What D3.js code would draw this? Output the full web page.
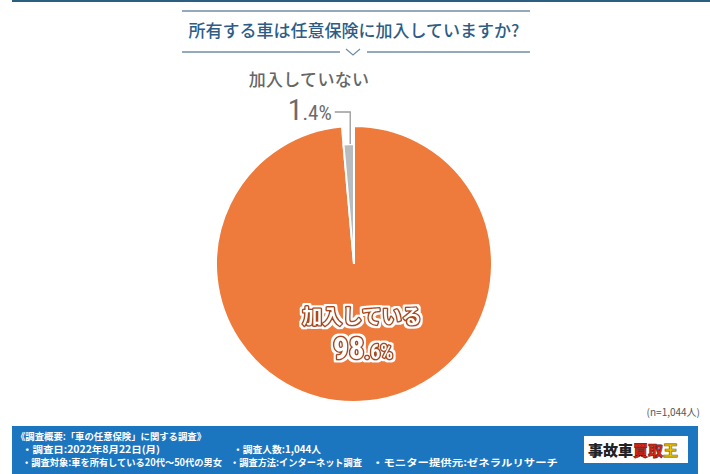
<!DOCTYPE html>
<html><head><meta charset="utf-8">
<script src="https://cdn.jsdelivr.net/npm/d3@7"></script>
<style>
html,body{margin:0;padding:0;background:#fff;}
svg{display:block;font-family:"Noto Sans CJK JP","Noto Sans",sans-serif;}
</style></head>
<body>
<svg id="chart" width="710" height="474"></svg>
<script>
const title = "所有する車は任意保険に加入していますか?";
const categories = ["加入している", "加入していない"];
const values = [98.6, 1.4];
const colors = ["#ee7a3b", "#b8bcbf"];
const sampleNote = "(n=1,044人)";
const footLines = [
  ["《調査概要:「車の任意保険」に関する調査》"],
  ["・調査日:2022年8月22日(月)", "・調査人数:1,044人"],
  ["・調査対象:車を所有している20代〜50代の男女", "・調査方法:インターネット調査", "・モニター提供元:ゼネラルリサーチ"]
];

const svg = d3.select("#chart");
const defs = svg.append("defs");
const f = defs.append("filter").attr("id","halo").attr("x","-10%").attr("y","-20%").attr("width","120%").attr("height","140%");
f.append("feMorphology").attr("in","SourceAlpha").attr("operator","dilate").attr("radius",1.6).attr("result","d");
f.append("feFlood").attr("flood-color","#ffffff").attr("result","w");
f.append("feComposite").attr("in","w").attr("in2","d").attr("operator","in").attr("result","halo");
const fm = f.append("feMerge");
fm.append("feMergeNode").attr("in","halo");
fm.append("feMergeNode").attr("in","SourceGraphic");

// top rule
svg.append("rect").attr("x",12).attr("y",0).attr("width",698).attr("height",2).attr("fill","#2a5f82");

// title block
const tg = svg.append("g");
tg.append("line").attr("x1",182).attr("x2",530).attr("y1",11).attr("y2",11).attr("stroke","#6f8ea6").attr("stroke-width",1.5);
tg.append("text").attr("x",354).attr("y",37).attr("text-anchor","middle")
  .attr("font-size",17).attr("font-weight",500).attr("fill","#2d5d86").text(title);
tg.append("path").attr("d","M182,52H340M367,52H530").attr("stroke","#6f8ea6").attr("stroke-width",1.5).attr("fill","none");
tg.append("path").attr("d","M346,49L353,55L360,49").attr("stroke","#6f8ea6").attr("stroke-width",1.2).attr("fill","none");

// pie
const cx = 354, cy = 264, R = 138, Rsmall = 120;
const pie = d3.pie().sort(null).value(d => d.v).startAngle(0).endAngle(2*Math.PI);
const data = categories.map((c,i)=>({c, v: values[i], col: colors[i]}));
const arcs = pie(data);
const radius = i => i === 0 ? R : Rsmall;
const g = svg.append("g").attr("transform",`translate(${cx},${cy})`);
g.selectAll("path.slice").data(arcs).join("path").attr("class","slice")
  .attr("d",(d,i)=>d3.arc().innerRadius(0).outerRadius(radius(i))(d))
  .attr("fill",d=>d.data.col).attr("stroke","#fff").attr("stroke-width",2).attr("stroke-linejoin","miter");

// small slice leader
const small = arcs[1];
const mid = (small.startAngle + small.endAngle)/2;
const px = Math.sin(mid)*Rsmall, py = -Math.cos(mid)*Rsmall;
const ly = -152;
g.append("path").attr("d",`M${px+1.5},${py}V${ly}H${px-14}`).attr("fill","none").attr("stroke","#9a9a9a").attr("stroke-width",1.3);

function splitPct(v){
  const s = v.toFixed(1).split(".");
  return [s[0], "." + s[1] + "%"];
}
// small label
const sp = splitPct(values[1]);
const st = g.append("text").attr("x",px-17).attr("y",ly+8).attr("text-anchor","end")
  .attr("fill","#6b6b6b").attr("font-family","'Liberation Sans Narrow','Roboto Condensed','Noto Sans',sans-serif");
st.append("tspan").attr("font-size",30).text(sp[0]);
st.append("tspan").attr("font-size",21).text(sp[1]);
g.append("text").attr("x",-45).attr("y",-178).attr("text-anchor","middle")
  .attr("font-size",17).attr("font-weight",500).attr("fill","#666").attr("letter-spacing",0.3).text(categories[1]);

// big label: white fill, brown ring, white halo
const bp = splitPct(values[0]);
g.append("text").attr("x",8).attr("y",60).attr("text-anchor","middle")
  .attr("font-size",20).attr("font-weight",700).attr("fill","#fff")
  .attr("stroke","#a9491b").attr("stroke-width",3).attr("paint-order","stroke").attr("stroke-linejoin","round")
  .attr("filter","url(#halo)").text(categories[0]);
const bt = g.append("text").attr("x",9).attr("y",95).attr("text-anchor","middle")
  .attr("font-family","'Liberation Sans Narrow','Roboto Condensed','Noto Sans',sans-serif").attr("font-weight",700)
  .attr("fill","#fff").attr("stroke","#a9491b").attr("stroke-width",3).attr("paint-order","stroke").attr("stroke-linejoin","round")
  .attr("filter","url(#halo)");
bt.append("tspan").attr("font-size",31).text(bp[0]);
bt.append("tspan").attr("font-size",20).text(bp[1]);

// n note
svg.append("text").attr("x",700).attr("y",416).attr("text-anchor","end")
  .attr("font-size",10).attr("fill","#555").text(sampleNote);

// footer banner
svg.append("rect").attr("x",12).attr("y",426).attr("width",686).attr("height",48).attr("fill","#1b76bf");
const fx = [[16],[22,233],[22,230,372]];
const fy = [440, 453, 466];
const fw = [[190],[138,88],[200,132,186]];
footLines.forEach((line,li)=>{
  line.forEach((txt,ti)=>{
    svg.append("text").attr("x",fx[li][ti]).attr("y",fy[li]).attr("font-size",9.6).attr("font-weight",700)
      .attr("fill","#fff").attr("textLength",fw[li][ti]).attr("lengthAdjust","spacingAndGlyphs").text(txt);
  });
});
// logo
svg.append("rect").attr("x",584).attr("y",436).attr("width",104).attr("height",27).attr("fill","#fff");
const lt = svg.append("text").attr("x",588).attr("y",456).attr("font-size",15).attr("font-weight",900);
lt.append("tspan").attr("fill","#222").text("事故車");
lt.append("tspan").attr("fill","#d9261c").attr("stroke","#5a1a10").attr("stroke-width",0.6).text("買取");
lt.append("tspan").attr("fill","#f3c300").attr("stroke","#7a5a00").attr("stroke-width",0.6).text("王");
</script>
</body></html>
